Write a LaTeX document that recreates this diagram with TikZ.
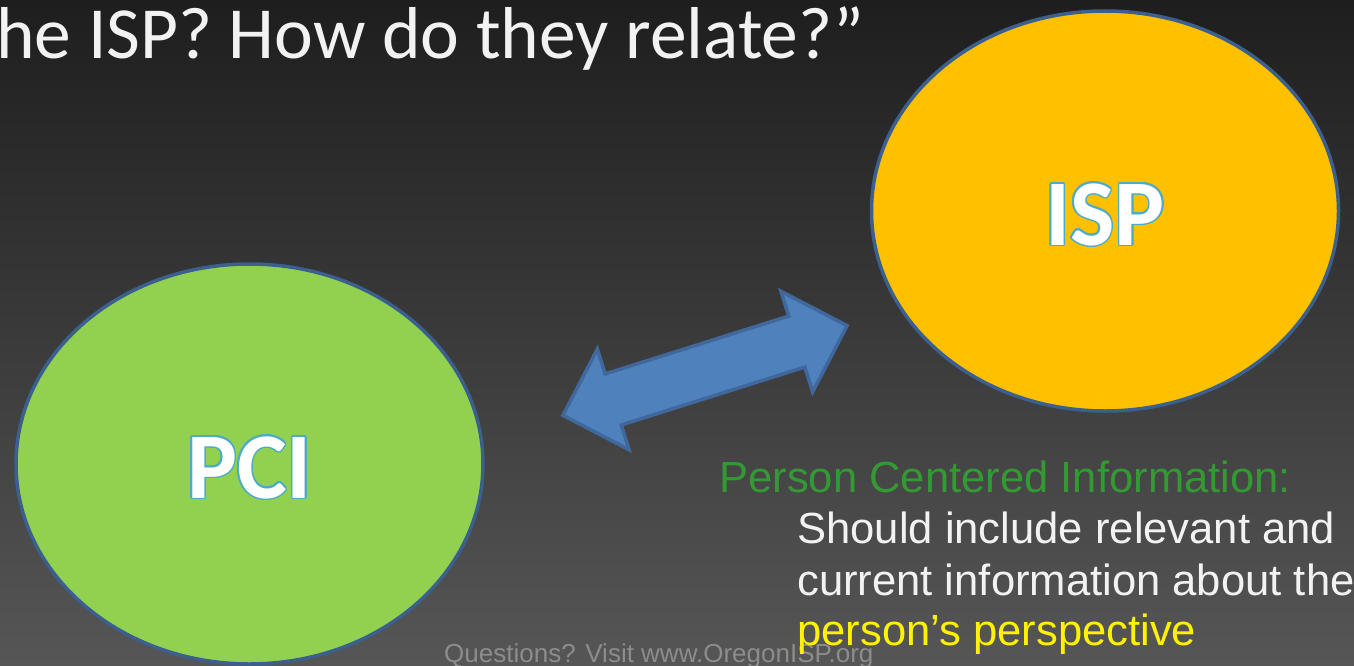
\documentclass[tikz,border=0pt]{standalone}
\usepackage{fontspec}
\setmainfont{Liberation Sans}
\newfontfamily\calibri{Carlito}
\usepackage{contour}
\usepackage{tikz}
\usetikzlibrary{shapes,arrows,positioning}
\definecolor{bgtop}{HTML}{1E1E1E}
\definecolor{bgbottom}{HTML}{565656}
\definecolor{ispfill}{HTML}{FFC000}
\definecolor{pcifill}{HTML}{92D050}
\definecolor{rim}{HTML}{3B5F8F}
\definecolor{arrowfill}{HTML}{4F81BD}
\definecolor{arrowrim}{HTML}{41689C}
\definecolor{glow}{HTML}{4BACC6}
\definecolor{pcigreen}{HTML}{339933}
\definecolor{offwhite}{HTML}{F2F2F2}
\definecolor{footgray}{HTML}{8C8C8C}
\contourlength{1.5pt}
\tikzstyle{bubble} = [ellipse, draw=rim, line width=3.5pt, minimum width=467pt,
    minimum height=400pt, inner sep=0pt, text=white, text height=68pt, text depth=0pt,
    font=\calibri\bfseries\fontsize{94}{100}\selectfont]
\tikzstyle{ispnode} = [bubble, fill=ispfill]
\tikzstyle{pcinode} = [bubble, fill=pcifill]
\tikzstyle{linkarrow} = [double arrow, draw=arrowrim, fill=arrowfill, line width=3.5pt,
    minimum height=298pt, inner xsep=0pt, inner ysep=25pt, double arrow head extend=26pt,
    double arrow tip angle=90, rotate=17.5]
\tikzstyle{bodytext} = [anchor=base west, inner sep=0pt, text=offwhite,
    font=\fontsize{43.6}{52}\selectfont]

\begin{document}
\begin{tikzpicture}[x=1pt,y=-1pt]
    \useasboundingbox (0,0) rectangle (1354,666);
    \shade [top color=bgtop, bottom color=bgbottom] (0,0) rectangle (1354,666);

    % Place nodes
    \node [anchor=base west, inner sep=0pt, text=offwhite,
        font=\calibri\fontsize{73.5}{80}\selectfont] (title) at (-4,59) {he ISP? How do they relate?”};

    \node [ispnode] (isp) at (1105,211) {\contour{glow}{ISP}};
    \node [pcinode] (pci) at (249.5,464) {\contour{glow}{PCI}};
    \node [linkarrow] (link) at (705,370.5) {};

    \node [anchor=base west, inner sep=0pt, text=footgray,
        font=\fontsize{26}{30}\selectfont] (footer) at (444,662) {Questions? Visit www.OregonISP.org};

    \node [bodytext, text=pcigreen] (heading) at (719,492) {Person Centered Information:};
    \node [bodytext] (line1) at (797,543) {Should include relevant and};
    \node [bodytext] (line2) at (797,595) {current information about the};
    \node [bodytext, text=yellow] (line3) at (797,645) {person’s perspective};
\end{tikzpicture}
\end{document}
